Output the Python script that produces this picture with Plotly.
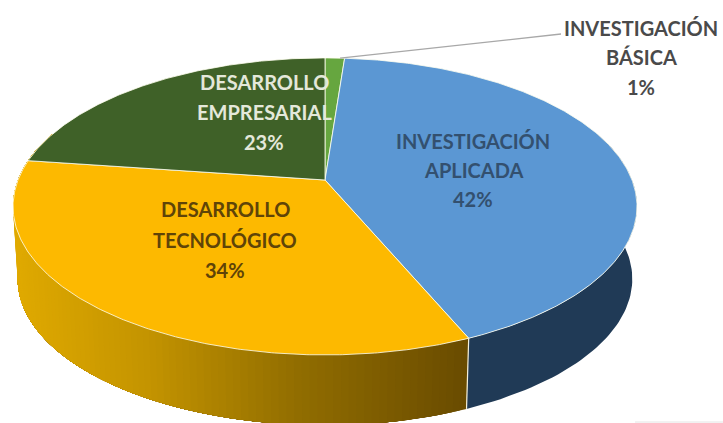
import numpy as np
import plotly.graph_objects as go

# --- data ---
categories = ["INVESTIGACIÓN BÁSICA", "INVESTIGACIÓN APLICADA", "DESARROLLO TECNOLÓGICO", "DESARROLLO EMPRESARIAL"]
values = [1.2, 42.4, 33.6, 22.8]
percent_labels = ["1%", "42%", "34%", "23%"]

# --- styles ---
top_colors = ["#66a63f", "#5b97d3", "#fdb900", "#3f6128"]
blue_side = "#203a56"
gold_stops = [(15, (224, 170, 0)), (150, (196, 148, 0)), (300, (146, 110, 0)), (470, (106, 76, 0))]
START_DEG = 0.0

# --- projection of the tilted disc onto the page ---
CX, CY, A, B, K = 325.0, 180.0, 307.0, 143.8, 0.178
def project(deg, scale=1.0, dy=0.0):
    t = np.radians(deg)
    w = 1 + K * np.cos(t)
    return CX + scale * A * np.sin(t) / w, CY + dy - scale * B * np.cos(t) / w

def gold(x):
    xs = [s[0] for s in gold_stops]
    return "rgb(%d,%d,%d)" % tuple(np.interp(x, xs, [s[1][i] for s in gold_stops]) for i in range(3))

fig = go.Figure()
SIDE_SCALE, SIDE_DY = 0.985, 73.0
total = sum(values)
edges = START_DEG + np.cumsum([0] + values) * 360.0 / total

# side wall: blue part
split = edges[2]
th = np.linspace(70, split, 70)
x1, y1 = project(th)
x2, y2 = project(th[::-1], SIDE_SCALE, SIDE_DY)
fig.add_trace(go.Scatter(x=np.r_[x1, x2], y=np.r_[y1, y2], fill="toself", fillcolor=blue_side,
                         mode="lines", line=dict(width=0), hoverinfo="skip"))
# side wall: gold part, shaded in overlapping strips so no seams show
th = np.linspace(split, 290, 111)
for i in range(len(th) - 1):
    seg = np.linspace(th[i], th[-1], 40)
    xa, ya = project(seg)
    xb, yb = project(seg[::-1], SIDE_SCALE, SIDE_DY)
    c = gold(float(xa[0]))
    fig.add_trace(go.Scatter(x=np.r_[xa, xb], y=np.r_[ya, yb], fill="toself", fillcolor=c,
                             mode="lines", line=dict(width=0), hoverinfo="skip"))
# white seam between the two walls
xa, ya = project(split)
xb, yb = project(split, SIDE_SCALE, SIDE_DY)
fig.add_trace(go.Scatter(x=[xa, xb], y=[ya, yb], mode="lines", line=dict(color="#f4f0dc", width=1.2), hoverinfo="skip"))

# top faces
for i, col in enumerate(top_colors):
    th = np.linspace(edges[i], edges[i + 1], max(6, int(values[i] * 8)))
    x, y = project(th)
    fig.add_trace(go.Scatter(x=np.r_[CX, x, CX], y=np.r_[CY, y, CY], fill="toself", fillcolor=col,
                             mode="lines", line=dict(color="rgba(255,255,240,0.8)", width=1), hoverinfo="skip"))

# leader line for the smallest slice
lx, ly = project(edges[1] - 1.0)
fig.add_trace(go.Scatter(x=[lx, 555, 561], y=[ly, 35, 34], mode="lines",
                         line=dict(color="#a8a8a8", width=1.3), hoverinfo="skip"))

# labels
label_lines = [
    ("INVESTIGACIÓN", 641, 28, "#4a4a4a"), ("BÁSICA", 641, 57, "#4a4a4a"), (percent_labels[0], 641, 87, "#4a4a4a"),
    ("INVESTIGACIÓN", 473, 141, "#33506f"), ("APLICADA", 473, 170, "#33506f"), (percent_labels[1], 473, 199, "#33506f"),
    ("DESARROLLO", 225, 209, "#5f4408"), ("TECNOLÓGICO", 225, 240, "#5f4408"), (percent_labels[2], 225, 270, "#5f4408"),
    ("DESARROLLO", 264, 82, "#e4e8da"), ("EMPRESARIAL", 264, 112, "#e4e8da"), (percent_labels[3], 264, 142, "#e4e8da"),
]
for text, x, y, col in label_lines:
    fig.add_annotation(x=x, y=y, text="<b>%s</b>" % text, showarrow=False,
                       font=dict(family="Lato, Open Sans, sans-serif", size=20, color=col))

# faint edge line at the lower right of the picture
fig.add_shape(type="line", x0=635, x1=723, y0=422, y1=422, line=dict(color="#e4e4e4", width=1))

fig.update_layout(width=723, height=423, margin=dict(l=0, r=0, t=0, b=0), showlegend=False,
                  paper_bgcolor="white", plot_bgcolor="white",
                  xaxis=dict(range=[0, 723], visible=False, fixedrange=True),
                  yaxis=dict(range=[423, 0], visible=False, fixedrange=True))
fig.write_html("out.html", config={"displayModeBar": False},
               post_script="document.body.style.margin='0';document.documentElement.style.overflow='hidden';")
